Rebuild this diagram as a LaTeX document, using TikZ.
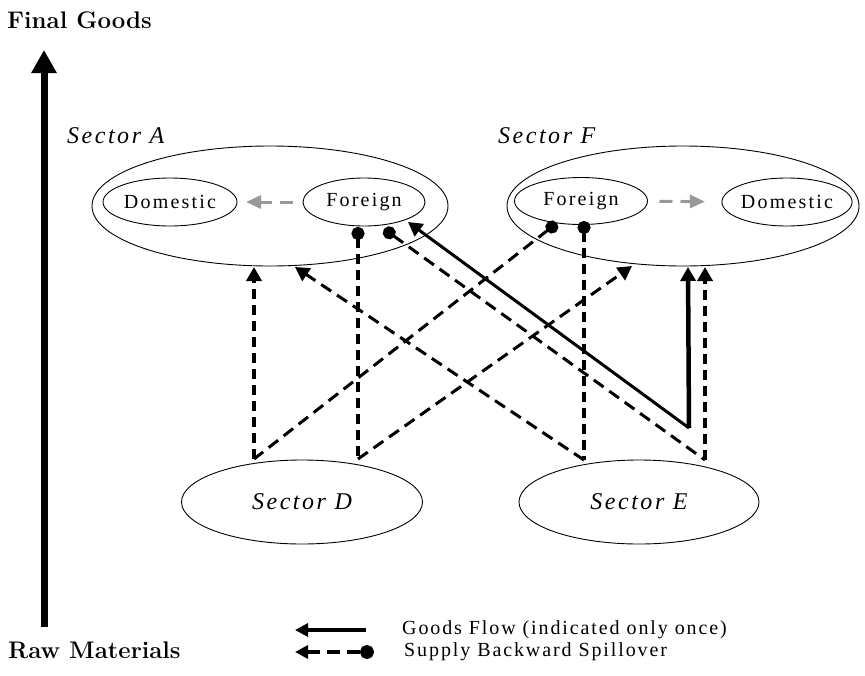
\documentclass[tikz,border=0pt]{standalone}
\usepackage{fontspec}
\usetikzlibrary{arrows.meta,shapes.geometric}
\newfontfamily\tnrsec{Liberation Serif}[LetterSpace=10.5]
\newfontfamily\tnrin{Liberation Serif}[LetterSpace=11]
\newfontfamily\tnrleg{Liberation Serif}[LetterSpace=9.5]
\begin{document}
\begin{tikzpicture}[x=1pt,y=-1pt,
  >={Triangle[length=14pt,width=15pt]},
  sect/.style={ellipse,draw,line width=0.9pt,inner sep=0pt,outer sep=0pt},
  inell/.style={sect,font=\fontsize{20}{24}\selectfont\tnrin},
  seclbl/.style={inner sep=0pt,anchor=west,font=\fontsize{24}{28}\selectfont\tnrsec\itshape},
  axlbl/.style={inner sep=0pt,anchor=west,font=\fontsize{24}{28}\selectfont\bfseries},
  leglbl/.style={inner sep=0pt,anchor=west,font=\fontsize{20}{24}\selectfont\tnrleg},
  dvert/.style={line width=4pt,dash pattern=on 10pt off 6pt},
  ddiag/.style={line width=3pt,dash pattern=on 12pt off 7pt},
  grayarr/.style={draw=black!40,line width=3pt,dash pattern=on 13pt off 8pt,
    -{Triangle[length=15pt,width=13pt]}},
  dot/.style={{Circle[length=13pt]}-}
]
\useasboundingbox (0,0) rectangle (865,675);

% axis
\coordinate (axbot) at (44,627);
\coordinate (axtop) at (44,50);
\draw[line width=7pt,-{Triangle[length=23pt,width=24pt]}] (axbot) -- (axtop);
\node[axlbl] (fg) at (7,20) {Final Goods};
\node[axlbl] (rm) at (8,650) {Raw Materials};

% sector A
\node[sect,minimum width=356pt,minimum height=120pt] (SA) at (270,206) {};
\node[seclbl] (SAl) at (67,136) {Sector A};
\node[inell,minimum width=134pt,minimum height=48pt] (AD) at (170,202) {Domestic};
\node[inell,minimum width=122pt,minimum height=48pt] (AF) at (364,202) {Foreign};
\draw[grayarr,shorten <=10pt,shorten >=9pt] (AF) -- (AD);

% sector F
\node[sect,minimum width=352pt,minimum height=120pt] (SF) at (683,206) {};
\node[seclbl] (SFl) at (498,136) {Sector F};
\node[inell,minimum width=133pt,minimum height=47pt] (FF) at (581,201) {Foreign};
\node[inell,minimum width=122pt,minimum height=48pt] (FD) at (787,202) {Domestic};
\draw[grayarr,shorten <=12pt,shorten >=17pt] (FF) -- (FD);

% sectors D and E
\node[sect,minimum width=241pt,minimum height=84pt,
  font=\fontsize{24}{28}\selectfont\tnrsec\itshape] (SD) at (302,502) {Sector D};
\node[sect,minimum width=240pt,minimum height=84pt,
  font=\fontsize{24}{28}\selectfont\tnrsec\itshape] (SE) at (639,502) {Sector E};

% connection points
\coordinate (dL) at (254,459);
\coordinate (dR) at (358,459);
\coordinate (eL) at (584,460);
\coordinate (eR) at (705,460);
\coordinate (aB1) at (254,267);
\coordinate (aB2) at (295,267);
\coordinate (fB1) at (632,266);
\coordinate (fB2) at (705,267);
\coordinate (fB3) at (688,267);
\coordinate (corner) at (689,428);
\coordinate (aFt) at (408,222);
\coordinate (aS1) at (358,227);
\coordinate (aS2) at (384,229);
\coordinate (fS1) at (557,223);
\coordinate (fS2) at (584,221);

% dashed flows
\draw[dvert,->] (dL) -- (aB1);
\draw[ddiag,->] (eL) -- (aB2);
\draw[ddiag,->] (dR) -- (fB1);
\draw[dvert,->] (eR) -- (fB2);

% spillovers
\draw[dvert,dot] (aS1) -- (dR);
\draw[ddiag,dot] (aS2) -- (eR);
\draw[ddiag,dot] (fS1) -- (dL);
\draw[dvert,dot] (fS2) -- (eL);

% goods flow
\draw[line width=3pt,->] (corner) -- (aFt);
\draw[line width=4.5pt,->] (corner) -- (fB3);

% legend
\coordinate (l1r) at (366,630);
\coordinate (l1l) at (295,630);
\coordinate (l2r) at (374,652);
\coordinate (l2l) at (295,652);
\draw[line width=4.5pt,{Triangle[length=13pt,width=13pt]}-] (l1l) -- (l1r);
\draw[line width=4.5pt,dash pattern=on 13pt off 7pt,{Triangle[length=13pt,width=13pt]}-{Circle[length=14pt]}] (l2l) -- (l2r);
\node[leglbl] (lg1) at (402,630) {Goods Flow (indicated only once)};
\node[leglbl] (lg2) at (404,652) {Supply Backward Spillover};
\end{tikzpicture}
\end{document}
